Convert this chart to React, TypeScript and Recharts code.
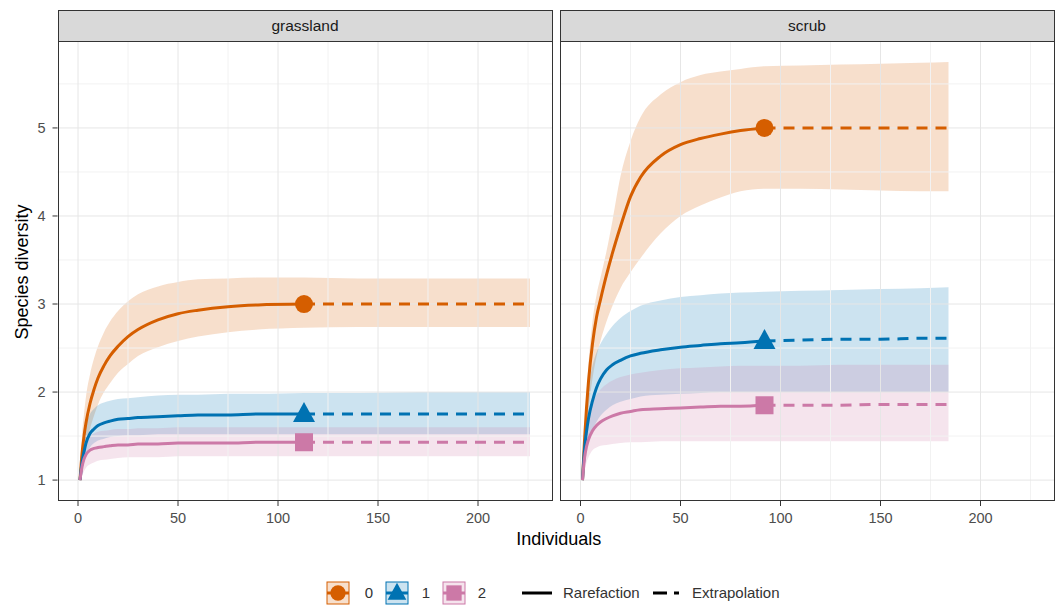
import React from 'react';
import { ComposedChart, Area, Line, XAxis, YAxis, ReferenceLine, ReferenceDot } from 'recharts';

const FONT = '"Liberation Sans", Arial, sans-serif';

const ORANGE = '#D55E00';
const BLUE = '#0072B2';
const PINK = '#CC79A7';

// axis breaks
const xTicks = [0, 50, 100, 150, 200];
const xMinor = [25, 75, 125, 175, 225];
const yTicks = [1, 2, 3, 4, 5];
const yMinor = [1.5, 2.5, 3.5, 4.5, 5.5];
const xDomain = [-10.25, 237.25];
const yDomain = [0.7625, 5.9875];

// grassland: 113 individuals, extrapolated to 226
const grassN = 113;
const grassX = [1, 2, 3, 4, 6, 8, 10, 13, 16, 20, 25, 30, 40, 50, 60, 75, 90, 113, 140, 170, 200, 226];
const grassQ0 = [1.0, 1.3, 1.5, 1.65, 1.87, 2.03, 2.16, 2.3, 2.41, 2.52, 2.63, 2.71, 2.82, 2.89, 2.93, 2.97, 2.99, 3.0, 3.0, 3.0, 3.0, 3.0];
const grassQ0Lo = [1.0, 1.1, 1.25, 1.38, 1.58, 1.73, 1.86, 2.0, 2.1, 2.22, 2.32, 2.41, 2.51, 2.58, 2.63, 2.68, 2.71, 2.73, 2.74, 2.74, 2.74, 2.74];
const grassQ0Hi = [1.0, 1.5, 1.75, 1.95, 2.2, 2.38, 2.52, 2.68, 2.8, 2.92, 3.03, 3.11, 3.2, 3.25, 3.28, 3.29, 3.3, 3.3, 3.29, 3.29, 3.29, 3.29];
const grassQ1 = [1.0, 1.2, 1.32, 1.42, 1.53, 1.58, 1.62, 1.65, 1.67, 1.69, 1.7, 1.71, 1.72, 1.73, 1.74, 1.74, 1.75, 1.75, 1.75, 1.75, 1.75, 1.75];
const grassQ1Lo = [1.0, 1.12, 1.2, 1.28, 1.37, 1.42, 1.45, 1.47, 1.49, 1.5, 1.51, 1.51, 1.52, 1.52, 1.52, 1.52, 1.52, 1.52, 1.52, 1.52, 1.52, 1.52];
const grassQ1Hi = [1.0, 1.32, 1.5, 1.62, 1.75, 1.81, 1.85, 1.88, 1.9, 1.92, 1.93, 1.94, 1.96, 1.97, 1.97, 1.98, 1.98, 1.99, 1.99, 2.0, 2.0, 2.0];
const grassQ2 = [1.0, 1.15, 1.24, 1.29, 1.34, 1.36, 1.37, 1.38, 1.39, 1.4, 1.4, 1.41, 1.41, 1.42, 1.42, 1.42, 1.43, 1.43, 1.43, 1.43, 1.43, 1.43];
const grassQ2Lo = [1.0, 1.05, 1.1, 1.14, 1.18, 1.2, 1.22, 1.23, 1.24, 1.25, 1.26, 1.26, 1.26, 1.27, 1.27, 1.27, 1.27, 1.27, 1.27, 1.27, 1.27, 1.27];
const grassQ2Hi = [1.0, 1.25, 1.38, 1.44, 1.5, 1.53, 1.55, 1.56, 1.57, 1.58, 1.58, 1.59, 1.59, 1.6, 1.6, 1.6, 1.6, 1.6, 1.6, 1.6, 1.6, 1.6];

// scrub: 92 individuals, extrapolated to 184
const scrubN = 92;
const scrubX = [1, 2, 3, 4, 6, 8, 10, 13, 16, 20, 25, 30, 40, 50, 60, 70, 80, 92, 110, 130, 150, 170, 184];
const scrubQ0 = [1.0, 1.45, 1.82, 2.12, 2.55, 2.85, 3.05, 3.33, 3.58, 3.88, 4.22, 4.44, 4.68, 4.81, 4.88, 4.93, 4.97, 5.0, 5.0, 5.0, 5.0, 5.0, 5.0];
const scrubQ0Lo = [1.0, 1.22, 1.55, 1.8, 2.15, 2.4, 2.58, 2.8, 2.98, 3.18, 3.36, 3.52, 3.8, 4.0, 4.12, 4.21, 4.28, 4.31, 4.31, 4.3, 4.29, 4.28, 4.28];
const scrubQ0Hi = [1.0, 1.55, 1.98, 2.32, 2.8, 3.1, 3.3, 3.6, 3.95, 4.45, 4.85, 5.12, 5.38, 5.52, 5.6, 5.64, 5.67, 5.7, 5.71, 5.72, 5.73, 5.74, 5.75];
const scrubQ1 = [1.0, 1.35, 1.55, 1.7, 1.9, 2.05, 2.15, 2.25, 2.31, 2.36, 2.41, 2.44, 2.48, 2.51, 2.53, 2.55, 2.56, 2.58, 2.59, 2.6, 2.6, 2.61, 2.61];
const scrubQ1Lo = [1.0, 1.15, 1.3, 1.42, 1.57, 1.66, 1.73, 1.8, 1.85, 1.89, 1.92, 1.95, 1.97, 1.98, 1.99, 2.0, 2.0, 2.0, 2.0, 2.0, 2.0, 2.0, 2.0];
const scrubQ1Hi = [1.0, 1.55, 1.85, 2.05, 2.3, 2.45, 2.55, 2.66, 2.75, 2.84, 2.92, 2.98, 3.04, 3.08, 3.1, 3.12, 3.13, 3.14, 3.15, 3.16, 3.17, 3.18, 3.19];
const scrubQ2 = [1.0, 1.25, 1.38, 1.46, 1.56, 1.62, 1.66, 1.7, 1.73, 1.76, 1.78, 1.8, 1.81, 1.82, 1.83, 1.84, 1.84, 1.85, 1.85, 1.85, 1.86, 1.86, 1.86];
const scrubQ2Lo = [1.0, 1.1, 1.2, 1.26, 1.34, 1.37, 1.39, 1.4, 1.41, 1.42, 1.43, 1.43, 1.44, 1.44, 1.44, 1.44, 1.44, 1.44, 1.44, 1.44, 1.44, 1.44, 1.44];
const scrubQ2Hi = [1.0, 1.45, 1.62, 1.73, 1.88, 1.97, 2.03, 2.09, 2.13, 2.17, 2.2, 2.22, 2.25, 2.27, 2.28, 2.29, 2.3, 2.3, 2.3, 2.31, 2.31, 2.31, 2.31];

const orders = ['0', '1', '2'];
const colors = [ORANGE, BLUE, PINK];
const shapes = ['circle', 'triangle', 'square'];

type Series = { mean: number[]; lo: number[]; hi: number[] };

const grassSeries: Series[] = [
  { mean: grassQ0, lo: grassQ0Lo, hi: grassQ0Hi },
  { mean: grassQ1, lo: grassQ1Lo, hi: grassQ1Hi },
  { mean: grassQ2, lo: grassQ2Lo, hi: grassQ2Hi },
];
const scrubSeries: Series[] = [
  { mean: scrubQ0, lo: scrubQ0Lo, hi: scrubQ0Hi },
  { mean: scrubQ1, lo: scrubQ1Lo, hi: scrubQ1Hi },
  { mean: scrubQ2, lo: scrubQ2Lo, hi: scrubQ2Hi },
];

const Marker = ({ cx, cy, shape, color, s = 1 }: any) => {
  if (cx == null || cy == null) return <g />;
  if (shape === 'circle') return <circle cx={cx} cy={cy} r={9 * s} fill={color} />;
  if (shape === 'triangle')
    return (
      <polygon
        points={`${cx},${cy - 12 * s} ${cx - 11 * s},${cy + 8 * s} ${cx + 11 * s},${cy + 8 * s}`}
        fill={color}
      />
    );
  return <rect x={cx - 9 * s} y={cy - 9 * s} width={18 * s} height={18 * s} fill={color} />;
};

const tickStyle = { fill: '#4d4d4d', fontSize: 14.5, fontFamily: FONT };

const Panel = ({ xs, n, series, showY, width }: { xs: number[]; n: number; series: Series[]; showY: boolean; width: number }) => {
  const rows = xs.map((x, i) => {
    const r: any = { x };
    series.forEach((s, k) => {
      r['b' + k] = [s.lo[i], s.hi[i]];
      if (x <= n) r['r' + k] = s.mean[i];
      if (x >= n) r['e' + k] = s.mean[i];
    });
    return r;
  });
  const obsIdx = xs.indexOf(n);

  return (
    <ComposedChart width={width} height={500} data={rows} margin={{ top: 0, right: 0, bottom: 0, left: 0 }}>
      {xMinor.map((v) => (
        <ReferenceLine key={'xm' + v} x={v} stroke="#f2f2f2" strokeWidth={1} />
      ))}
      {yMinor.map((v) => (
        <ReferenceLine key={'ym' + v} y={v} stroke="#f2f2f2" strokeWidth={1} />
      ))}
      {xTicks.map((v) => (
        <ReferenceLine key={'xM' + v} x={v} stroke="#e6e6e6" strokeWidth={1} />
      ))}
      {yTicks.map((v) => (
        <ReferenceLine key={'yM' + v} y={v} stroke="#e6e6e6" strokeWidth={1} />
      ))}
      <XAxis
        dataKey="x"
        type="number"
        domain={xDomain}
        ticks={xTicks}
        allowDataOverflow
        axisLine={false}
        tickLine={{ stroke: '#333333' }}
        tickSize={5}
        tickMargin={7}
        tick={tickStyle}
        height={40}
      />
      <YAxis
        type="number"
        domain={yDomain}
        ticks={yTicks}
        allowDataOverflow
        hide={!showY}
        width={57.5}
        axisLine={false}
        tickLine={{ stroke: '#333333' }}
        tickSize={5}
        tickMargin={7}
        tick={tickStyle}
      />
      {series.map((s, k) => (
        <Area
          key={'b' + k}
          dataKey={'b' + k}
          type="monotone"
          stroke="none"
          fill={colors[k]}
          fillOpacity={0.2}
          isAnimationActive={false}
          activeDot={false}
        />
      ))}
      {series.map((s, k) => (
        <Line
          key={'r' + k}
          dataKey={'r' + k}
          type="monotone"
          stroke={colors[k]}
          strokeWidth={3}
          dot={false}
          activeDot={false}
          isAnimationActive={false}
        />
      ))}
      {series.map((s, k) => (
        <Line
          key={'e' + k}
          dataKey={'e' + k}
          type="monotone"
          stroke={colors[k]}
          strokeWidth={3}
          strokeDasharray="11 8"
          dot={false}
          activeDot={false}
          isAnimationActive={false}
        />
      ))}
      {series.map((s, k) => (
        <ReferenceDot
          key={'o' + k}
          x={n}
          y={s.mean[obsIdx]}
          r={9}
          shape={(p: any) => <Marker cx={p.cx} cy={p.cy} shape={shapes[k]} color={colors[k]} />}
        />
      ))}
    </ComposedChart>
  );
};

const Strip = ({ left, width, label }: { left: number; width: number; label: string }) => (
  <div
    style={{
      position: 'absolute',
      left,
      top: 10,
      width,
      height: 32,
      boxSizing: 'border-box',
      background: '#d9d9d9',
      border: '1px solid #333333',
      color: '#1a1a1a',
      fontFamily: FONT,
      fontSize: 15.5,
      lineHeight: '30px',
      textAlign: 'center',
    }}
  >
    {label}
  </div>
);

const Border = ({ left, width }: { left: number; width: number }) => (
  <div
    style={{
      position: 'absolute',
      left,
      top: 41,
      width,
      height: 460,
      boxSizing: 'border-box',
      border: '1px solid #333333',
      pointerEvents: 'none',
    }}
  />
);

const keyCenters = [338, 397, 454];
const keyLabelX = [369, 426, 482];

const Legend = () => (
  <svg width={1060} height={40} style={{ position: 'absolute', left: 0, top: 572 }}>
    {orders.map((o, k) => (
      <g key={o}>
        <rect
          x={keyCenters[k] - 11}
          y={10}
          width={22}
          height={22}
          fill={colors[k]}
          fillOpacity={0.2}
          stroke={colors[k]}
          strokeWidth={1}
        />
        <line x1={keyCenters[k] - 11} x2={keyCenters[k] + 11} y1={21} y2={21} stroke={colors[k]} strokeWidth={3} />
        <Marker cx={keyCenters[k]} cy={21} shape={shapes[k]} color={colors[k]} s={0.85} />
        <text x={keyLabelX[k]} y={26} textAnchor="middle" fontFamily={FONT} fontSize={15} fill="#333333">
          {o}
        </text>
      </g>
    ))}
    <line x1={522} x2={552} y1={21} y2={21} stroke="#000000" strokeWidth={3} />
    <text x={563} y={26} fontFamily={FONT} fontSize={15} fill="#333333">
      Rarefaction
    </text>
    <line x1={653} x2={679} y1={21} y2={21} stroke="#000000" strokeWidth={3} strokeDasharray="14 7" />
    <text x={692} y={26} fontFamily={FONT} fontSize={15} fill="#333333">
      Extrapolation
    </text>
  </svg>
);

const App = () => (
  <div style={{ position: 'absolute', left: 0, top: 0, width: 1060, height: 605, background: '#ffffff', fontFamily: FONT }}>
    <Strip left={57.5} width={495} label="grassland" />
    <Strip left={559.5} width={495} label="scrub" />
    <div style={{ position: 'absolute', left: 0, top: 41 }}>
      <Panel xs={grassX} n={grassN} series={grassSeries} showY width={552.5} />
    </div>
    <div style={{ position: 'absolute', left: 559.5, top: 41 }}>
      <Panel xs={scrubX} n={scrubN} series={scrubSeries} showY={false} width={495} />
    </div>
    <Border left={57.5} width={495} />
    <Border left={559.5} width={495} />
    <div
      style={{
        position: 'absolute',
        left: 0,
        width: 1060,
        paddingLeft: 57.5,
        boxSizing: 'border-box',
        top: 529,
        textAlign: 'center',
        fontSize: 18,
        color: '#000000',
      }}
    >
      Individuals
    </div>
    <div
      style={{
        position: 'absolute',
        left: 22,
        top: 272,
        transform: 'translate(-50%, -50%) rotate(-90deg)',
        whiteSpace: 'nowrap',
        fontSize: 18,
        color: '#000000',
      }}
    >
      Species diversity
    </div>
    <Legend />
  </div>
);

export default App;
